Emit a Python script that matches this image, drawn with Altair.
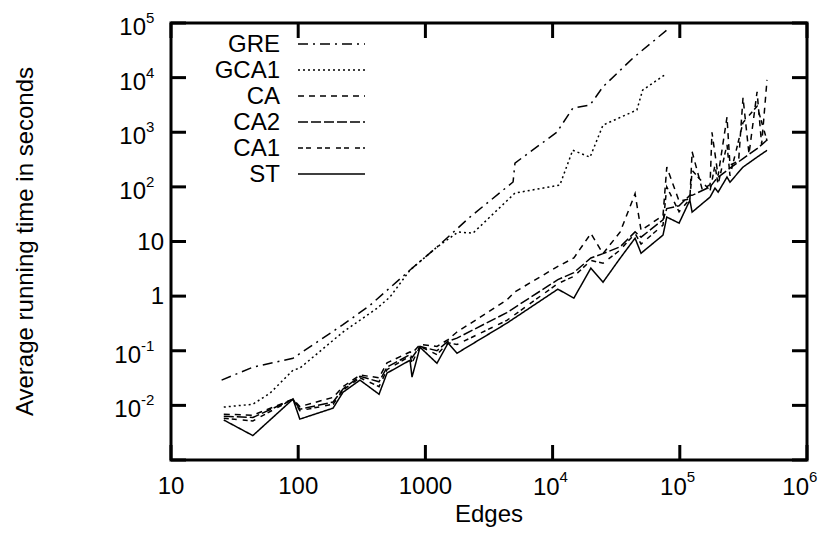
import altair as alt
import pandas as pd

# ---------------- data ----------------
SERIES = ["GRE", "GCA1", "CA", "CA2", "CA1", "ST"]

GRE_X = [25, 44, 91, 225, 367, 757, 1233, 2240, 4890, 5060, 10800, 14400, 19700, 24900, 42800, 79000]
GRE_Y = [0.029, 0.050, 0.073, 0.30, 0.68, 3.0, 7.9, 28, 123, 273, 1000, 2750, 3150, 6800, 22800, 74000]

GCA1_X = [26, 44, 60, 91, 103, 225, 417, 526, 757, 1233, 1810, 2365, 5060, 11400, 14400, 19700, 24900, 46000, 51000, 76000]
GCA1_Y = [0.0093, 0.0105, 0.0167, 0.044, 0.048, 0.22, 0.60, 0.96, 3.0, 7.9, 14.9, 14.2, 77, 108, 470, 350, 1350, 2560, 5900, 11200]

CA_X = [26, 44, 91, 103, 188, 225, 306, 432, 499, 757, 785, 907, 1233, 1507, 1770, 4370, 5060,
        11000, 14700, 20000, 24900, 34000, 44500, 49600, 73800, 79000, 98700, 120000, 125000,
        150000, 173000, 179000, 200000, 235000, 248000, 290000, 314000, 350000, 405000, 440000, 485000]
CA_Y = [0.0069, 0.0066, 0.013, 0.0095, 0.014, 0.022, 0.036, 0.032, 0.060, 0.095, 0.090, 0.13, 0.12, 0.16, 0.22, 0.85, 1.2,
        3.5, 5.0, 14, 6.0, 15, 75, 16, 30, 230, 55, 60, 440,
        90, 110, 1000, 160, 1900, 250, 300, 4300, 400, 5500, 600, 9100]

ST_X = [26, 44, 91, 103, 188, 225, 306, 432, 499, 757, 785, 907, 1233, 1507, 1770, 4370, 11000, 14700,
        20000, 24900, 34000, 44500, 49600, 73800, 79000, 98700, 120000, 125000, 173000, 189000, 200000,
        235000, 248000, 314000, 405000, 485000]
ST_Y = [0.0054, 0.0028, 0.013, 0.0056, 0.0089, 0.0174, 0.029, 0.016, 0.039, 0.067, 0.033, 0.116, 0.059, 0.138, 0.090, 0.32, 1.34, 0.92,
        3.26, 1.80, 4.96, 11.5, 6.1, 13.1, 28, 21.7, 57, 34.5, 65, 95, 80,
        151, 122, 230, 350, 467]
CA2_Y = [0.0063, 0.0060, 0.013, 0.0085, 0.0115, 0.020, 0.034, 0.027, 0.050, 0.085, 0.075, 0.12, 0.10, 0.15, 0.17, 0.50, 2.0, 2.7,
         5.0, 6.0, 8, 15, 12, 25, 40, 45, 70, 70, 100, 130, 150,
         200, 220, 330, 500, 720]
CA1_Y = [0.0058, 0.0052, 0.013, 0.0080, 0.0105, 0.019, 0.032, 0.022, 0.045, 0.080, 0.060, 0.12, 0.085, 0.14, 0.13, 0.36, 1.7, 2.3,
         4.5, 4.0, 7, 14, 9, 20, 100, 35, 60, 200, 85, 250, 110,
         600, 160, 1500, 3000, 700]

X_TICKS = [10, 100, 1000, 1e4, 1e5, 1e6]
X_BASE = ["10", "100", "1000", "10", "10", "10"]
X_EXP = ["", "", "", "4", "5", "6"]

Y_TICKS = [1e-3, 1e-2, 1e-1, 1, 10, 1e2, 1e3, 1e4, 1e5]
Y_LAB_V = [1e5, 1e4, 1e3, 1e2, 10, 1, 0.1, 0.01]
Y_BASE = ["10", "10", "10", "10", "10", "1", "10", "10"]
Y_EXP = ["5", "4", "3", "2", "", "", "-1", "-2"]

X_TITLE = "Edges"
Y_TITLE = "Average running time in seconds"

# ---------------- styling ----------------
FONT = "Liberation Sans"
FS = 24
EFS = 15
W, H = 636, 437
DASHES = [[10, 5, 2, 5], [2, 3], [6, 5], [10, 3], [5, 3, 5, 6], [1, 0]]

series_data = {
    "GRE": (GRE_X, GRE_Y),
    "GCA1": (GCA1_X, GCA1_Y),
    "CA": (CA_X, CA_Y),
    "CA2": (ST_X, CA2_Y),
    "CA1": (ST_X, CA1_Y),
    "ST": (ST_X, ST_Y),
}
rows = []
for name, (xs, ys) in series_data.items():
    for i, (xv, yv) in enumerate(zip(xs, ys)):
        rows.append({"series": name, "x": xv, "y": yv, "i": i})
df = pd.DataFrame(rows)

xscale = alt.Scale(type="log", domain=[10, 1e6], nice=False)
yscale = alt.Scale(type="log", domain=[1e-3, 1e5], nice=False)
dash_scale = alt.Scale(domain=SERIES, range=DASHES)

lines = alt.Chart(df).mark_line(strokeWidth=1.5, color="black").encode(
    x=alt.X("x:Q", scale=xscale, axis=None),
    y=alt.Y("y:Q", scale=yscale, axis=None),
    strokeDash=alt.StrokeDash("series:N", scale=dash_scale, legend=None),
    detail="series:N",
    order="i:Q",
)

xt = pd.DataFrame({"v": X_TICKS})
yt = pd.DataFrame({"v": Y_TICKS})
TL = 15
tick_bottom = alt.Chart(xt).mark_rule(color="black", strokeWidth=3).encode(
    x=alt.X("v:Q", scale=xscale, axis=None), y=alt.value(H), y2=alt.value(H - TL))
tick_top = alt.Chart(xt).mark_rule(color="black", strokeWidth=3).encode(
    x=alt.X("v:Q", scale=xscale, axis=None), y=alt.value(0), y2=alt.value(TL))
tick_left = alt.Chart(yt).mark_rule(color="black", strokeWidth=3).encode(
    y=alt.Y("v:Q", scale=yscale, axis=None), x=alt.value(0), x2=alt.value(TL))
tick_right = alt.Chart(yt).mark_rule(color="black", strokeWidth=3).encode(
    y=alt.Y("v:Q", scale=yscale, axis=None), x=alt.value(W - TL), x2=alt.value(W))

xl = pd.DataFrame({"v": X_TICKS, "base": X_BASE, "exp": X_EXP})
yl = pd.DataFrame({"v": Y_LAB_V, "base": Y_BASE, "exp": Y_EXP})

x_plain = alt.Chart(xl).transform_filter("datum.exp == ''").mark_text(
    align="center", baseline="alphabetic", font=FONT, fontSize=FS, color="black").encode(
    x=alt.X("v:Q", scale=xscale, axis=None), y=alt.value(H + 34), text="base:N")
x_pow_layers = []
for cond, ddx in [("datum.exp != '' && datum.v < 1e6", 7), ("datum.v >= 1e6", 2)]:
    x_pow_layers.append(alt.Chart(xl).transform_filter(cond).mark_text(
        align="right", baseline="alphabetic", dx=ddx, font=FONT, fontSize=FS, color="black").encode(
        x=alt.X("v:Q", scale=xscale, axis=None), y=alt.value(H + 35), text="base:N"))
    x_pow_layers.append(alt.Chart(xl).transform_filter(cond).mark_text(
        align="left", baseline="alphabetic", dx=ddx, font=FONT, fontSize=EFS, color="black").encode(
        x=alt.X("v:Q", scale=xscale, axis=None), y=alt.value(H + 22), text="exp:N"))

y_plain = alt.Chart(yl).transform_filter("datum.exp == ''").mark_text(
    align="right", baseline="alphabetic", dy=8, font=FONT, fontSize=FS, color="black").encode(
    y=alt.Y("v:Q", scale=yscale, axis=None), x=alt.value(-7), text="base:N")
y_layers = []
for cond, bx in [("indexof(datum.exp, '-') < 0", -25), ("indexof(datum.exp, '-') >= 0", -30)]:
    f = "datum.exp != '' && " + cond
    y_layers.append(alt.Chart(yl).transform_filter(f).mark_text(
        align="right", baseline="alphabetic", dy=12, font=FONT, fontSize=FS, color="black").encode(
        y=alt.Y("v:Q", scale=yscale, axis=None), x=alt.value(bx), text="base:N"))
    y_layers.append(alt.Chart(yl).transform_filter(f).mark_text(
        align="left", baseline="alphabetic", dy=0, font=FONT, fontSize=EFS, color="black").encode(
        y=alt.Y("v:Q", scale=yscale, axis=None), x=alt.value(bx), text="exp:N"))

x_title = alt.Chart(pd.DataFrame({"t": [X_TITLE]})).mark_text(
    align="center", baseline="alphabetic", font=FONT, fontSize=FS, color="black").encode(
    x=alt.value(W / 2), y=alt.value(H + 62), text="t:N")
y_title = alt.Chart(pd.DataFrame({"t": [Y_TITLE]})).mark_text(
    align="center", baseline="alphabetic", angle=270, font=FONT, fontSize=FS, color="black").encode(
    x=alt.value(-138), y=alt.value(H / 2), text="t:N")

legend_layers = []
for k, name in enumerate(SERIES):
    ly = 21 + 26 * k
    legend_layers.append(alt.Chart(pd.DataFrame({"s": [name]})).mark_text(
        align="right", baseline="alphabetic", font=FONT, fontSize=FS, color="black").encode(
        x=alt.value(109), y=alt.value(ly + 8), text="s:N"))
    legend_layers.append(alt.Chart(pd.DataFrame({"s": [name]})).mark_rule(
        color="black", strokeWidth=1.5, strokeDash=DASHES[k]).encode(
        x=alt.value(127), x2=alt.value(194), y=alt.value(ly)))

chart = alt.layer(
    lines, tick_bottom, tick_top, tick_left, tick_right,
    x_plain, *x_pow_layers, y_plain, *y_layers, x_title, y_title, *legend_layers
).properties(
    width=W, height=H,
    padding={"left": 163, "top": 15, "right": 12, "bottom": 67},
    autosize=alt.AutoSizeParams(type="none"),
).configure_view(stroke="black", strokeWidth=3)

chart.save("out.html", embed_options={"renderer": "svg", "actions": False})
